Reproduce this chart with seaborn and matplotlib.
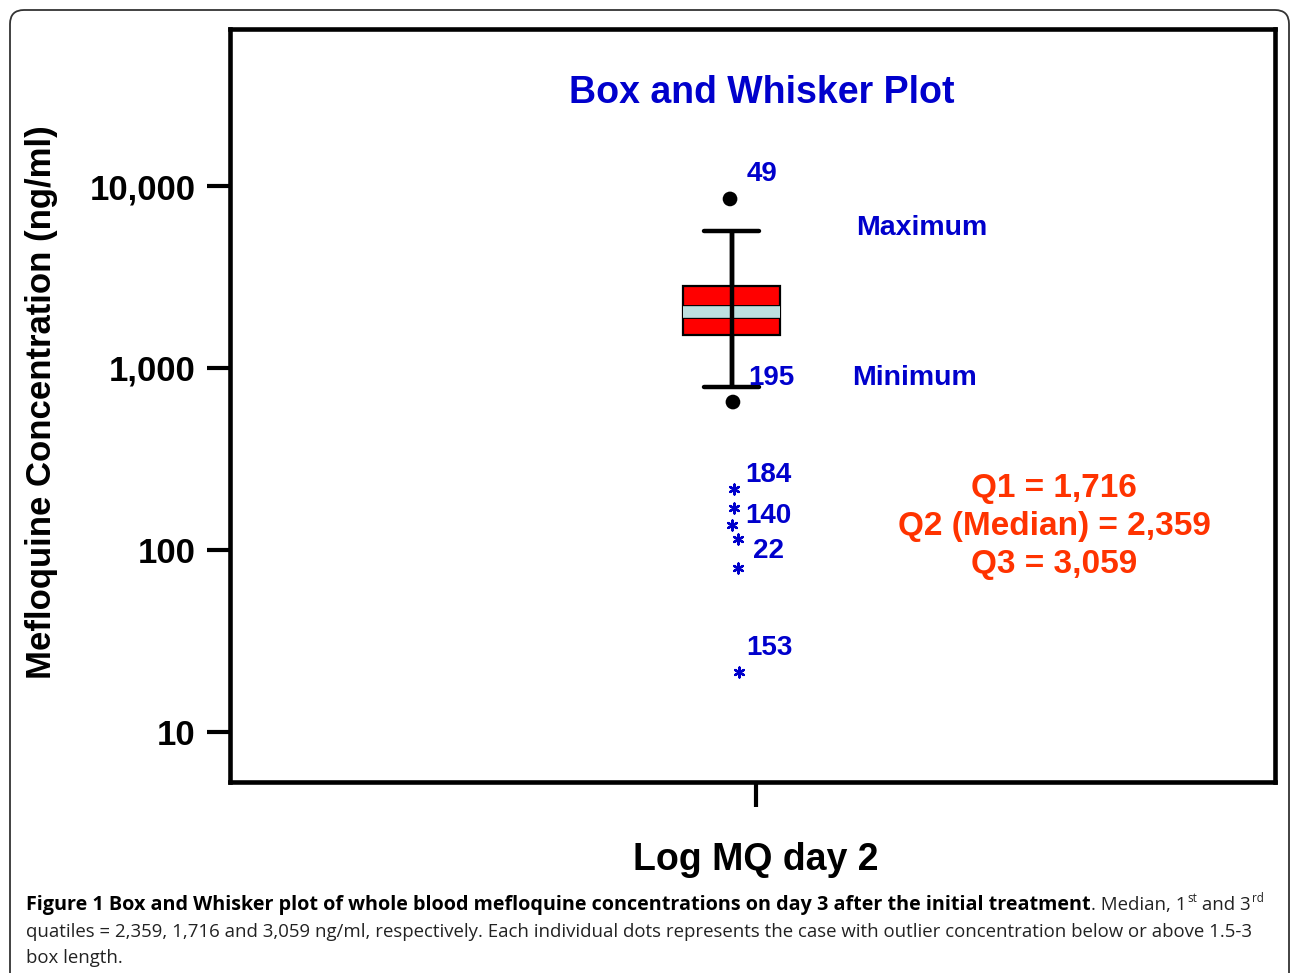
import numpy as np
import pandas as pd
import matplotlib
matplotlib.use("Agg")
import matplotlib.pyplot as plt
import matplotlib.patheffects as pe
from matplotlib.patches import FancyBboxPatch
from matplotlib.transforms import IdentityTransform
from matplotlib.ticker import NullLocator
import seaborn as sns

# ---------------- data ----------------
group_label = "Log MQ day 2"
# lower whisker, Q1, median, Q3, upper whisker (as drawn)
box_stats = [787, 1517, 2032, 2825, 5660]
dot_values = [8490, 650]            # outliers shown as dots (cases 49, 195)
dot_offsets = [-0.0015, 0.0013]
star_values = [216, 170, 137, 115, 79.6, 21.4]   # extreme outliers (asterisks)
star_offsets = [0.0023, 0.0023, 0.0004, 0.006, 0.006, 0.007]
y_ticks = [10, 100, 1000, 10000]
y_tick_labels = ["10", "100", "1,000", "10,000"]
case_labels = ["49", "195", "184", "140", "22", "153"]
whisker_labels = ["Maximum", "Minimum"]
quartile_text = ["Q1 = 1,716", "Q2 (Median) = 2,359", "Q3 = 3,059"]
title_text = "Box and Whisker Plot"
y_label = "Mefloquine Concentration (ng/ml)"
caption_bold = "Figure 1 Box and Whisker plot of whole blood mefloquine concentrations on day 3 after the initial treatment"
caption_l1 = [(". Median, 1", "n"), ("st", "s"), (" and 3", "n"), ("rd", "s")]
caption_l2 = ("quatiles = 2,359, 1,716 and 3,059 ng/ml, respectively. Each individual dots "
              "represents the case with outlier concentration below or above 1.5-3")
caption_l3 = "box length."

# ---------------- style ----------------
sns.set_theme(style="ticks")
plt.rcParams["font.family"] = ["Liberation Sans", "DejaVu Sans"]

W, H = 1290, 973
fig = plt.figure(figsize=(W / 100, H / 100), dpi=100)
fig.patch.set_facecolor("white")

def fx(px):
    return px / W

def fy(py):
    return 1 - py / H

ax = fig.add_axes([fx(230), fy(782), (1275 - 230) / W, (782 - 29) / H])
ax.set_yscale("log")

BLUE = "#0000cc"
ORANGE = "#ff3300"

df = pd.DataFrame({"pos": [0] * len(box_stats), "value": box_stats})
sns.boxplot(
    data=df, x="pos", y="value", orient="x", native_scale=True,
    whis=(0, 100), width=0.093, color="#ff0000", saturation=1,
    linecolor="black", linewidth=1.6, showfliers=False,
    whiskerprops=dict(linewidth=3.2),
    capprops=dict(linewidth=3.2),
    medianprops=dict(color="#bde0e0", linewidth=8.4, solid_capstyle="butt",
                     path_effects=[pe.Stroke(linewidth=10.0, foreground="black"), pe.Normal()]),
    capwidths=0.053, ax=ax,
)
# whisker line drawn through the box
ax.vlines(0, box_stats[0], box_stats[-1], colors="black", linewidth=3.2, zorder=6)

sns.scatterplot(x=dot_offsets, y=dot_values, color="black", s=112,
                edgecolor="none", ax=ax, zorder=7, legend=False)
sns.scatterplot(x=star_offsets, y=star_values, marker=(6, 2, 0), s=50,
                color=BLUE, linewidth=1.7, ax=ax, zorder=7, legend=False)

ax.set_ylim(5.31, 72900)
ax.set_xlim(-0.48, 0.52)
ax.set_yticks(y_ticks, y_tick_labels)
ax.yaxis.set_minor_locator(NullLocator())
ax.set_xticks([0.023], [group_label])
ax.set_xlabel("")
ax.set_ylabel("")
ax.tick_params(axis="y", which="major", length=16.5, width=3, pad=8.5,
               labelsize=25, color="black", labelcolor="black", left=True)
ax.tick_params(axis="x", which="major", length=18, width=3, pad=25,
               labelsize=27, color="black", labelcolor="black", bottom=True)
for lbl in ax.get_yticklabels() + ax.get_xticklabels():
    lbl.set_fontweight("bold")
for sp in ax.spines.values():
    sp.set_visible(True)
    sp.set_linewidth(3.3)
    sp.set_color("black")

# ---------------- texts ----------------
fig.text(fx(42), fy(402), y_label, rotation=90, ha="center", va="center",
         fontsize=25, fontweight="bold", color="black")
fig.text(fx(762), fy(93), title_text, ha="center", va="center",
         fontsize=27, fontweight="bold", color=BLUE)

case_pos = [(762, 174), (771, 378), (768, 475), (768, 516), (768, 551), (769, 648)]
for lab, (px, py) in zip(case_labels, case_pos):
    fig.text(fx(px), fy(py), lab, ha="center", va="center", fontsize=20,
             fontweight="bold", color=BLUE)
for lab, (px, py) in zip(whisker_labels, [(922, 228), (915, 378)]):
    fig.text(fx(px), fy(py), lab, ha="center", va="center", fontsize=20.5,
             fontweight="bold", color=BLUE)
for lab, py in zip(quartile_text, [488, 526, 564]):
    fig.text(fx(1054), fy(py), lab, ha="center", va="center", fontsize=24,
             fontweight="bold", color=ORANGE)

# ---------------- outer frame ----------------
frame = FancyBboxPatch((10, -30), 1279, (H - 10) + 30,
                       boxstyle="round,pad=0,rounding_size=14",
                       transform=IdentityTransform(), facecolor="none",
                       edgecolor="#333333", linewidth=1.3)
fig.patches.append(frame)

# ---------------- caption ----------------
CAP_FONT = ["Open Sans", "DejaVu Sans"]
CAP_SIZE = 13.45
BOLD_SIZE = 14.25
renderer = fig.canvas.get_renderer()

def put(x, baseline, s, weight="normal", size=CAP_SIZE, color="#222222"):
    t = fig.text(fx(x), fy(baseline), s, ha="left", va="baseline",
                 fontsize=size, fontweight=weight, family=CAP_FONT, color=color)
    return x + t.get_window_extent(renderer).width

x = put(26, 910, caption_bold, weight="bold", size=BOLD_SIZE, color="black")
for s, kind in caption_l1:
    if kind == "s":
        x = put(x + 1, 902, s, size=CAP_SIZE * 0.62)
    else:
        x = put(x, 910, s)
put(26, 937, caption_l2)
put(26, 963, caption_l3)

fig.savefig("out.png", dpi=100, facecolor="white")
